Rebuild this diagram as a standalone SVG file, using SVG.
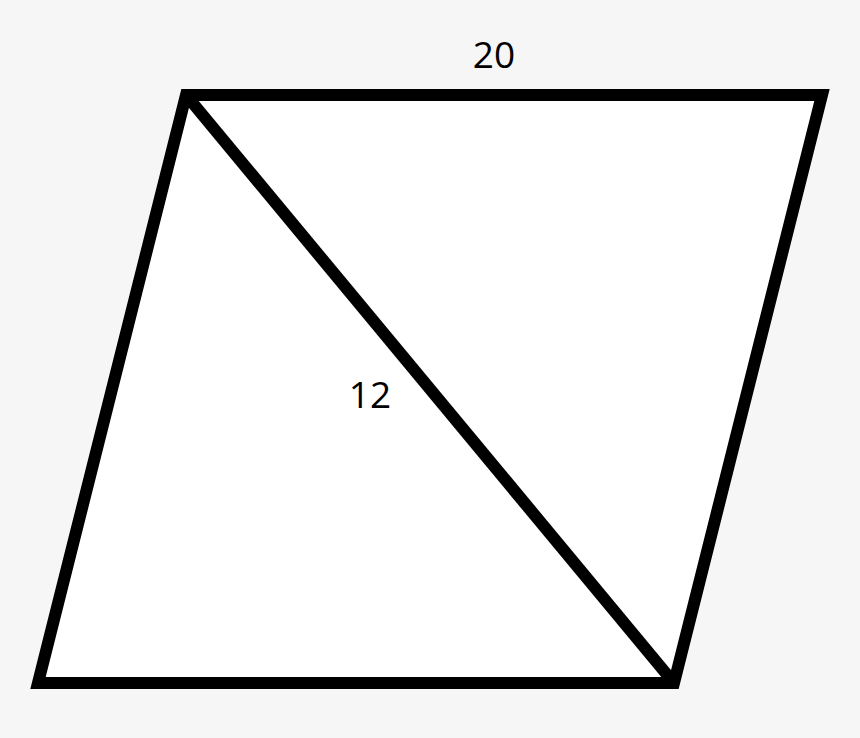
<svg xmlns="http://www.w3.org/2000/svg" width="860" height="738" viewBox="0 0 860 738">
<style>
.edge{fill:none;stroke:#000;stroke-width:12;stroke-linejoin:miter;stroke-miterlimit:10}
.lbl{font-family:"Open Sans","Liberation Sans",Arial,sans-serif;font-size:37px;fill:#000;text-anchor:middle}
</style>
<rect x="0" y="0" width="860" height="738" fill="#f6f6f6"/>
<g id="shape">
<polygon class="edge" style="fill:#fff" points="186,95 822,95 674,683 38,683"/>
</g>
<g id="connectors">
<line class="edge" x1="186" y1="95" x2="674" y2="683"/>
</g>
<g id="labels">
<text class="lbl" x="494" y="68">20</text>
<text class="lbl" x="370" y="408">12</text>
</g>
</svg>
